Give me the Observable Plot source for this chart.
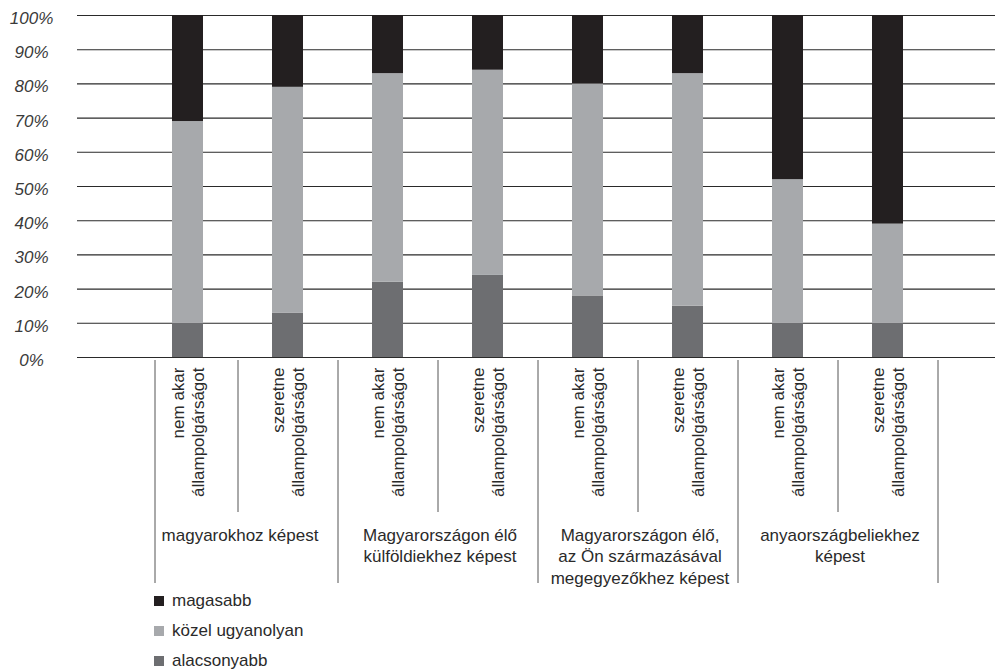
<!DOCTYPE html>
<html>
<head>
<meta charset="utf-8">
<script src="https://cdn.jsdelivr.net/npm/d3@7"></script>
<script src="https://cdn.jsdelivr.net/npm/@observablehq/plot@0.6"></script>
<style>
  html, body { margin: 0; padding: 0; background: #fff; }
  #chart svg { display: block; overflow: visible; }
  .legend { font-family: "Liberation Sans", Arial, sans-serif; font-size: 17px; color: #2a2a2a; margin-left: 154px; margin-top: -6px; }
  .legend .item { height: 30px; line-height: 30px; display: flex; align-items: center; }
  .legend .sw { width: 10px; height: 10px; margin-right: 8px; display: inline-block; }
</style>
</head>
<body>
<div id="chart"></div>
<script>
// ---- data ----
const groups = [
  "magyarokhoz képest",
  "Magyarországon élő\nkülföldiekhez képest",
  "Magyarországon élő,\naz Ön származásával\nmegegyezőkhez képest",
  "anyaországbeliekhez\nképest"
];
const subgroups = ["nem akar\nállampolgárságot", "szeretne\nállampolgárságot"];
const seriesNames = ["magasabb", "közel ugyanolyan", "alacsonyabb"];
const seriesColors = ["#231f20", "#a7a9ac", "#6d6e71"];
const alacsonyabb = [10, 13, 22, 24, 18, 15, 10, 10];
const kozel = [59, 66, 61, 60, 62, 68, 42, 29];
const magasabb = [31, 21, 17, 16, 20, 17, 48, 61];
const yTicks = [0, 10, 20, 30, 40, 50, 60, 70, 80, 90, 100];

// ---- derived tables ----
const cats = groups.flatMap((g, gi) => subgroups.map((s, si) => ({key: gi + "|" + si, group: g, sub: s, gi, si})));
const keys = cats.map(c => c.key);
const rows = [];
cats.forEach((c, i) => {
  rows.push({key: c.key, series: "alacsonyabb", value: alacsonyabb[i]});
  rows.push({key: c.key, series: "közel ugyanolyan", value: kozel[i]});
  rows.push({key: c.key, series: "magasabb", value: magasabb[i]});
});
const groupRows = groups.map((g, gi) => ({label: g, key: gi + "|0"}));

const xOpts = {type: "band", domain: keys, range: [137.5, 937.5], paddingInner: 0.69, paddingOuter: 0.345};
const xs = Plot.scale({x: xOpts});
const half = xs.step / 2;

const firstCats = cats.filter(c => c.si === 0);
const secondCats = cats.filter(c => c.si === 1);
const lastCat = [cats[cats.length - 1]];

const plot = Plot.plot({
  width: 995,
  height: 592,
  marginTop: 15,
  marginLeft: 77,
  marginRight: 0,
  marginBottom: 235,
  style: {fontFamily: "Liberation Sans, Arial, sans-serif", fontSize: "17px", color: "#231f20", background: "#fff", overflow: "visible"},
  x: {...xOpts, axis: null},
  y: {domain: [0, 100], axis: null, label: null},
  color: {domain: seriesNames, range: seriesColors},
  marks: [
    Plot.ruleY(yTicks, {stroke: "#2a2a2a", strokeWidth: 1.1}),
    Plot.barY(rows, {x: "key", y: "value", fill: "series"}),
    Plot.axisY({ticks: yTicks, label: null, tickSize: 0, tickPadding: 46, textAnchor: "middle", fontStyle: "italic", fontSize: 17, dy: 3, fill: "#3a3a3a", tickFormat: d => d + "%"}),
    // separators inside groups (short)
    Plot.ruleX(secondCats, {x: "key", dx: -half, stroke: "#555", strokeWidth: 1, insetTop: 345, insetBottom: -155}),
    // group boundaries (long)
    Plot.ruleX(firstCats.slice(1), {x: "key", dx: -half, stroke: "#555", strokeWidth: 1, insetTop: 345, insetBottom: -226}),
    Plot.ruleX(firstCats.slice(0, 1), {x: "key", dx: -half + 17, stroke: "#555", strokeWidth: 1, insetTop: 345, insetBottom: -226}),
    Plot.ruleX(lastCat, {x: "key", dx: half, stroke: "#555", strokeWidth: 1, insetTop: 345, insetBottom: -226}),
    // category labels
    Plot.text(cats, {x: "key", text: "sub", frameAnchor: "bottom", rotate: -90, textAnchor: "end", lineAnchor: "middle", dy: 10, lineHeight: 1.18, fontSize: 17, fill: "#2a2a2a"}),
    // group labels
    Plot.text(groupRows, {x: "key", text: "label", frameAnchor: "bottom", dx: half + 2, dy: 168, lineAnchor: "top", lineHeight: 1.27, textAnchor: "middle", fontSize: 17, fill: "#2a2a2a"})
  ]
});
document.getElementById("chart").appendChild(plot);

// legend (HTML, below the SVG)
const legend = document.createElement("div");
legend.className = "legend";
seriesNames.forEach((n, i) => {
  const item = document.createElement("div");
  item.className = "item";
  const sw = document.createElement("span");
  sw.className = "sw";
  sw.style.background = seriesColors[i];
  const t = document.createElement("span");
  t.textContent = n;
  item.appendChild(sw);
  item.appendChild(t);
  legend.appendChild(item);
});
document.getElementById("chart").appendChild(legend);
</script>
</body>
</html>
